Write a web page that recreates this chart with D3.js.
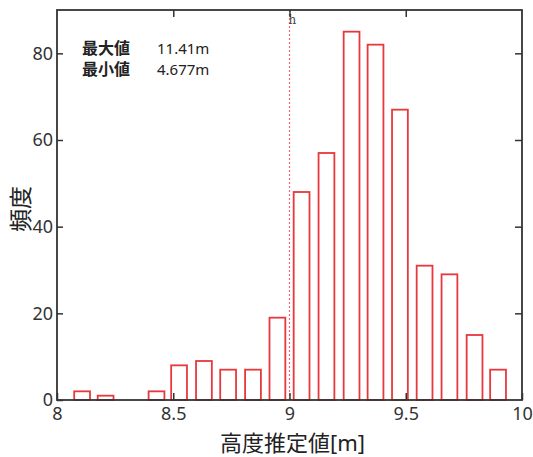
<!DOCTYPE html>
<html>
<head>
<meta charset="utf-8">
<script src="https://cdn.jsdelivr.net/npm/d3@7"></script>
<style>
  body { margin: 0; background: #fff; }
  text { font-family: "Noto Sans", "Noto Sans CJK JP", sans-serif; }
</style>
</head>
<body>
<div id="chart"></div>
<script>
// bin centres (m) and counts
const binCenters = [8.002, 8.108, 8.209, 8.31, 8.428, 8.525, 8.632, 8.736, 8.843, 8.948,
  9.052, 9.159, 9.267, 9.37, 9.475, 9.581, 9.688, 9.796, 9.897];
const counts = [0, 2, 1, 0, 2, 8, 9, 7, 7, 19, 48, 57, 85, 82, 67, 31, 29, 15, 7];
const xTicks = [8, 8.5, 9, 9.5, 10];
const yTicks = [0, 20, 40, 60, 80];
const markerX = 9.0;
const notes = [['最大値', '11.41m'], ['最小値', '4.677m']];

const W = 533, H = 457;
const margin = {top: 10, right: 11, bottom: 57, left: 57};
const width = W - margin.left - margin.right;
const height = H - margin.top - margin.bottom;
const barW = 0.068;
const red = '#e8383d';

const svg = d3.select('#chart').append('svg')
  .attr('width', W)
  .attr('height', H);

const x = d3.scaleLinear().domain([8, 10]).range([0, width]);
const y = d3.scaleLinear().domain([0, 90]).range([height, 0]);

const g = svg.append('g')
  .attr('transform', 'translate(' + margin.left + ',' + margin.top + ')');

g.append('clipPath').attr('id', 'plot')
  .append('rect').attr('width', width).attr('height', height + 2).attr('y', -1);

const bins = counts.map((c, i) => ({c: c, x: binCenters[i]}));

function drawBars(sel, data) {
  sel.attr('clip-path', 'url(#plot)')
    .selectAll('rect')
    .data(data)
    .enter()
    .append('rect')
    .attr('x', d => x(d.x - barW / 2))
    .attr('width', x(8 + barW) - x(8))
    .attr('y', d => y(d.c))
    .attr('height', d => y(0) - y(d.c))
    .style('fill', '#fff')
    .style('stroke', red)
    .style('stroke-width', 1.8);
}

drawBars(g.append('g'), bins.filter(d => d.c > 0));

// dotted marker line
g.append('line')
  .attr('x1', x(markerX)).attr('x2', x(markerX))
  .attr('y1', 0).attr('y2', height)
  .style('stroke', '#f26a78')
  .style('stroke-width', 1.2)
  .style('stroke-dasharray', '2,2');

g.append('text')
  .attr('x', x(markerX) - 1)
  .attr('y', 14)
  .style('font-family', '"DejaVu Serif", serif')
  .style('font-size', '12px')
  .style('fill', '#444')
  .text('h');

// axes, ticks pointing inward
const axisColor = '#333';
function styleAxis(sel) {
  sel.select('.domain').remove();
  sel.selectAll('line').style('stroke', axisColor).style('stroke-width', 1.5);
  sel.selectAll('text').style('font-size', '18px').style('fill', '#333')
    .style('font-family', '"Noto Sans", sans-serif');
}

g.append('g')
  .call(d3.axisLeft(y).tickValues(yTicks).tickSize(-6).tickPadding(4).tickFormat(d3.format('d')))
  .call(styleAxis);

g.append('g')
  .attr('transform', 'translate(' + width + ',0)')
  .call(d3.axisRight(y).tickValues(yTicks.slice(1)).tickSize(-7).tickFormat(''))
  .call(styleAxis);

g.append('g')
  .attr('transform', 'translate(0,' + height + ')')
  .call(d3.axisBottom(x).tickValues(xTicks).tickSize(-7).tickPadding(7).tickFormat(d3.format('')))
  .call(styleAxis);

g.append('g')
  .call(d3.axisTop(x).tickValues(xTicks.slice(1, 4)).tickSize(-7).tickFormat(''))
  .call(styleAxis);

g.append('rect')
  .attr('width', width)
  .attr('height', height)
  .style('fill', 'none')
  .style('stroke', axisColor)
  .style('stroke-width', 1.8);

// empty bins show as red segments on the baseline
drawBars(g.append('g'), bins.filter(d => d.c === 0));

// notes
const note = g.append('g').attr('transform', 'translate(25,44)');
notes.forEach((n, i) => {
  note.append('text').attr('x', 0).attr('y', i * 21)
    .style('font-size', '16px').style('fill', '#222').style('font-weight', 'bold')
    .text(n[0]);
  note.append('text').attr('x', 75).attr('y', i * 21)
    .style('font-size', '15px').style('fill', '#222')
    .text(n[1]);
});

// axis titles
svg.append('text')
  .attr('x', margin.left + x(9) + 3)
  .attr('y', 451)
  .attr('text-anchor', 'middle')
  .style('font-size', '22px')
  .style('fill', '#222')
  .text('高度推定値[m]');

svg.append('text')
  .attr('transform', 'translate(29,209) rotate(-90)')
  .attr('text-anchor', 'middle')
  .style('font-size', '23px')
  .style('fill', '#222')
  .text('頻度');
</script>
</body>
</html>
